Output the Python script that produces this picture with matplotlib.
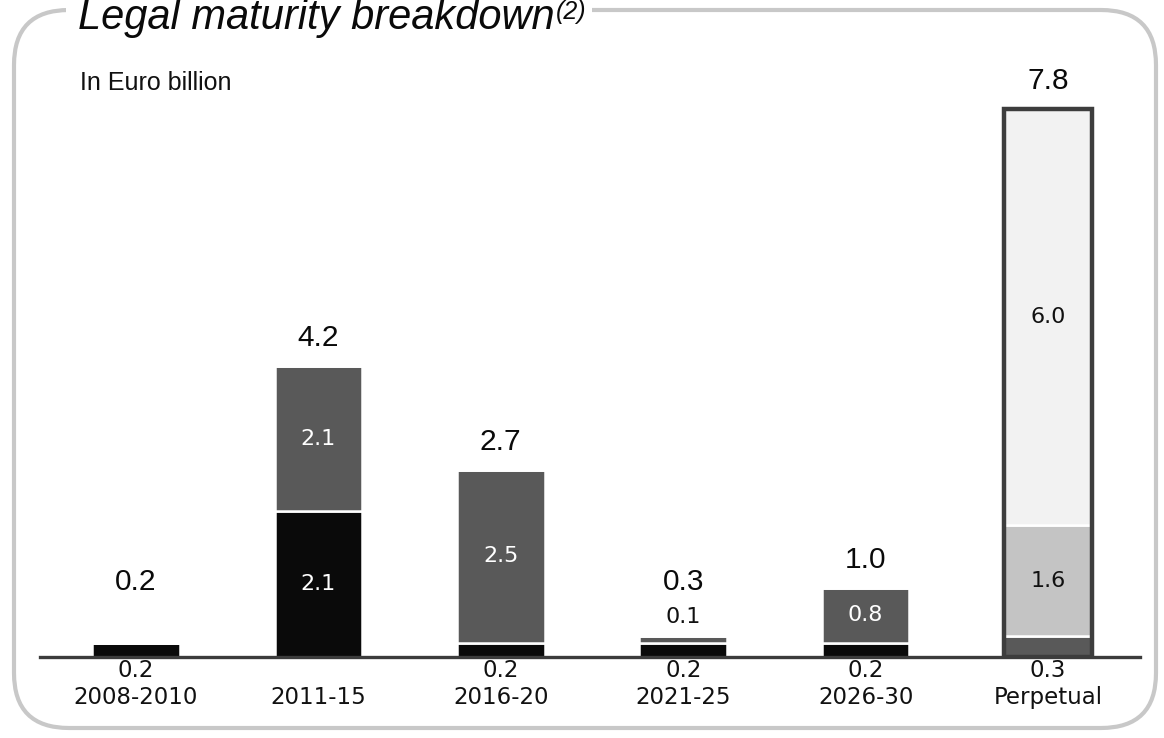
import matplotlib.pyplot as plt
from matplotlib.patches import FancyBboxPatch, Rectangle

categories = ['2008-2010', '2011-15', '2016-20', '2021-25', '2026-30', 'Perpetual']
short_dated = [0.2, 2.1, 0.2, 0.2, 0.2, 0.0]
medium_dated = [0.0, 2.1, 2.5, 0.1, 0.8, 0.3]
long_dated = [0.0, 0.0, 0.0, 0.0, 0.0, 1.6]
undated = [0.0, 0.0, 0.0, 0.0, 0.0, 6.0]
totals = [0.2, 4.2, 2.7, 0.3, 1.0, 7.8]

series = [short_dated, medium_dated, long_dated, undated]
fills = ['#0a0a0a', '#595959', '#c4c4c4', '#f2f2f2']
text_cols = ['white', 'white', '#111111', '#111111']

W, H = 1164, 738
fig = plt.figure(figsize=(W / 100, H / 100), dpi=100)

# rounded frame around the chart
frame = FancyBboxPatch((14 / 100, 10 / 100), 1142 / 100, 718 / 100,
                       boxstyle="round,pad=0,rounding_size=0.55",
                       transform=fig.dpi_scale_trans, facecolor='none',
                       edgecolor='#c8c8c8', linewidth=3, zorder=0)
fig.patches.append(frame)
cover = Rectangle((66 / 100, (H - 26) / 100), 526 / 100, 26 / 100,
                  transform=fig.dpi_scale_trans, facecolor='white',
                  edgecolor='none', zorder=1)
fig.patches.append(cover)

ax = fig.add_axes([40 / W, 81 / H, 1100 / W, 624 / H])
ax.set_xlim(-0.526, 5.504)
ax.set_ylim(0, 9)
ax.patch.set_visible(False)
ax.set_zorder(2)

x = list(range(len(categories)))
width = 0.48
bottoms = [0.0] * len(x)
for vals, fc, tc in zip(series, fills, text_cols):
    ax.bar(x, vals, width, bottom=bottoms, color=fc, edgecolor='white',
           linewidth=1.8, zorder=2)
    for i, v in enumerate(vals):
        if v <= 0:
            continue
        if bottoms[i] == 0 and v < 0.5:
            # small first segment: value under the axis
            ax.text(i, -0.2, f"{v:.1f}", ha='center', va='center',
                    fontsize=16.5, family='DejaVu Sans', color='#111111',
                    clip_on=False)
        elif v < 0.5:
            ax.text(i, bottoms[i] + v + 0.27, f"{v:.1f}", ha='center',
                    va='center', fontsize=16, family='DejaVu Sans',
                    color='#111111')
        else:
            ax.text(i, bottoms[i] + v / 2, f"{v:.1f}", ha='center',
                    va='center', fontsize=16, family='DejaVu Sans',
                    color=tc)
    bottoms = [b + v for b, v in zip(bottoms, vals)]

# outline on the perpetual bar
ax.bar(x[-1], bottoms[-1], width, fill=False, edgecolor='#3d3d3d',
       linewidth=3.2, zorder=3)

for i, t in enumerate(totals):
    ax.text(i, max(bottoms[i] + 0.2, 0.88), f"{t:.1f}", ha='center',
            va='bottom', fontsize=21.5, family='Liberation Sans',
            color='#0a0a0a')

for i, c in enumerate(categories):
    ax.text(i, -0.58, c, ha='center', va='center', fontsize=16.5,
            family='DejaVu Sans', color='#111111', clip_on=False)

for s in ['top', 'left', 'right']:
    ax.spines[s].set_visible(False)
ax.spines['bottom'].set_color('#3c3c3c')
ax.spines['bottom'].set_linewidth(2.4)
ax.spines['bottom'].set_zorder(4)
ax.set_xticks([])
ax.set_yticks([])

fig.text(80 / W, 1 - 83 / H, 'In Euro billion', ha='left', va='center',
         fontsize=18, family='Liberation Sans', color='#111111')

title = fig.text(78 / W, 1 - 29 / H, 'Legal maturity breakdown', ha='left',
                 va='baseline', fontsize=30, style='italic',
                 family='Liberation Sans', color='#0a0a0a', zorder=3)
fig.canvas.draw()
bb = title.get_window_extent()
fig.text(bb.x1 / W + 0.001, 1 - 19 / H, '(2)', ha='left', va='baseline',
         fontsize=18, style='italic', family='Liberation Sans',
         color='#0a0a0a', zorder=3)

fig.savefig('out.png', dpi=100)
